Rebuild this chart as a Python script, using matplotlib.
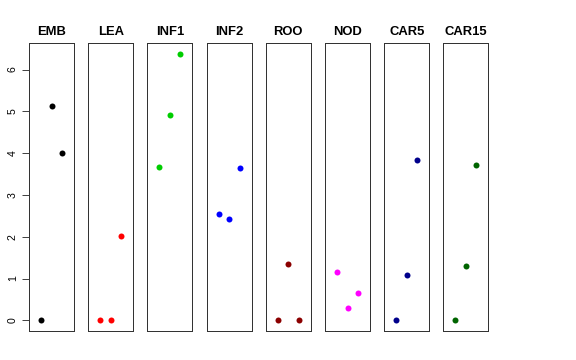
import matplotlib
matplotlib.use("Agg")
import matplotlib.pyplot as plt

tissues = ["EMB", "LEA", "INF1", "INF2", "ROO", "NOD", "CAR5", "CAR15"]
colors = ["black", "red", "#00CD00", "blue", "#8B0000", "magenta", "#00008B", "#006400"]
values = {
    "EMB":   [0.0, 5.12, 4.00],
    "LEA":   [0.0, 0.0, 2.01],
    "INF1":  [3.66, 4.92, 6.38],
    "INF2":  [2.54, 2.43, 3.64],
    "ROO":   [0.0, 1.34, 0.0],
    "NOD":   [1.15, 0.30, 0.65],
    "CAR5":  [0.0, 1.09, 3.83],
    "CAR15": [0.0, 1.29, 3.72],
}
yticks = [0, 1, 2, 3, 4, 5, 6]

W, H = 576, 360
fig = plt.figure(figsize=(W / 72, H / 72), dpi=72)
plt.rcParams['font.family'] = ['Liberation Sans', 'DejaVu Sans']

top_px, bot_px = 43, 331
pw = 45
ymin, ymax = -0.255, 6.635
for i, (name, col) in enumerate(zip(tissues, colors)):
    left_px = 29 + i * 59.2
    ax = fig.add_axes([left_px / W, (H - bot_px) / H, pw / W, (bot_px - top_px) / H])
    v = values[name]
    ax.plot([1, 2, 3], v, 'o', color=col, markersize=6, markeredgewidth=0)
    ax.set_xlim(-0.16, 4.16)
    ax.set_ylim(ymin, ymax)
    ax.set_xticks([])
    ax.set_title(name, fontsize=13, fontweight='bold', pad=8)
    for s in ax.spines.values():
        s.set_linewidth(1.0)
        s.set_color('#333333')
    if i == 0:
        ax.set_yticks(yticks)
        ax.set_yticklabels([str(t) for t in yticks], rotation=90, va='center', fontsize=10.5)
        ax.tick_params(axis='y', length=7, width=1, pad=4, color='#444444')
    else:
        ax.set_yticks([])

fig.savefig("out.png", dpi=72)
